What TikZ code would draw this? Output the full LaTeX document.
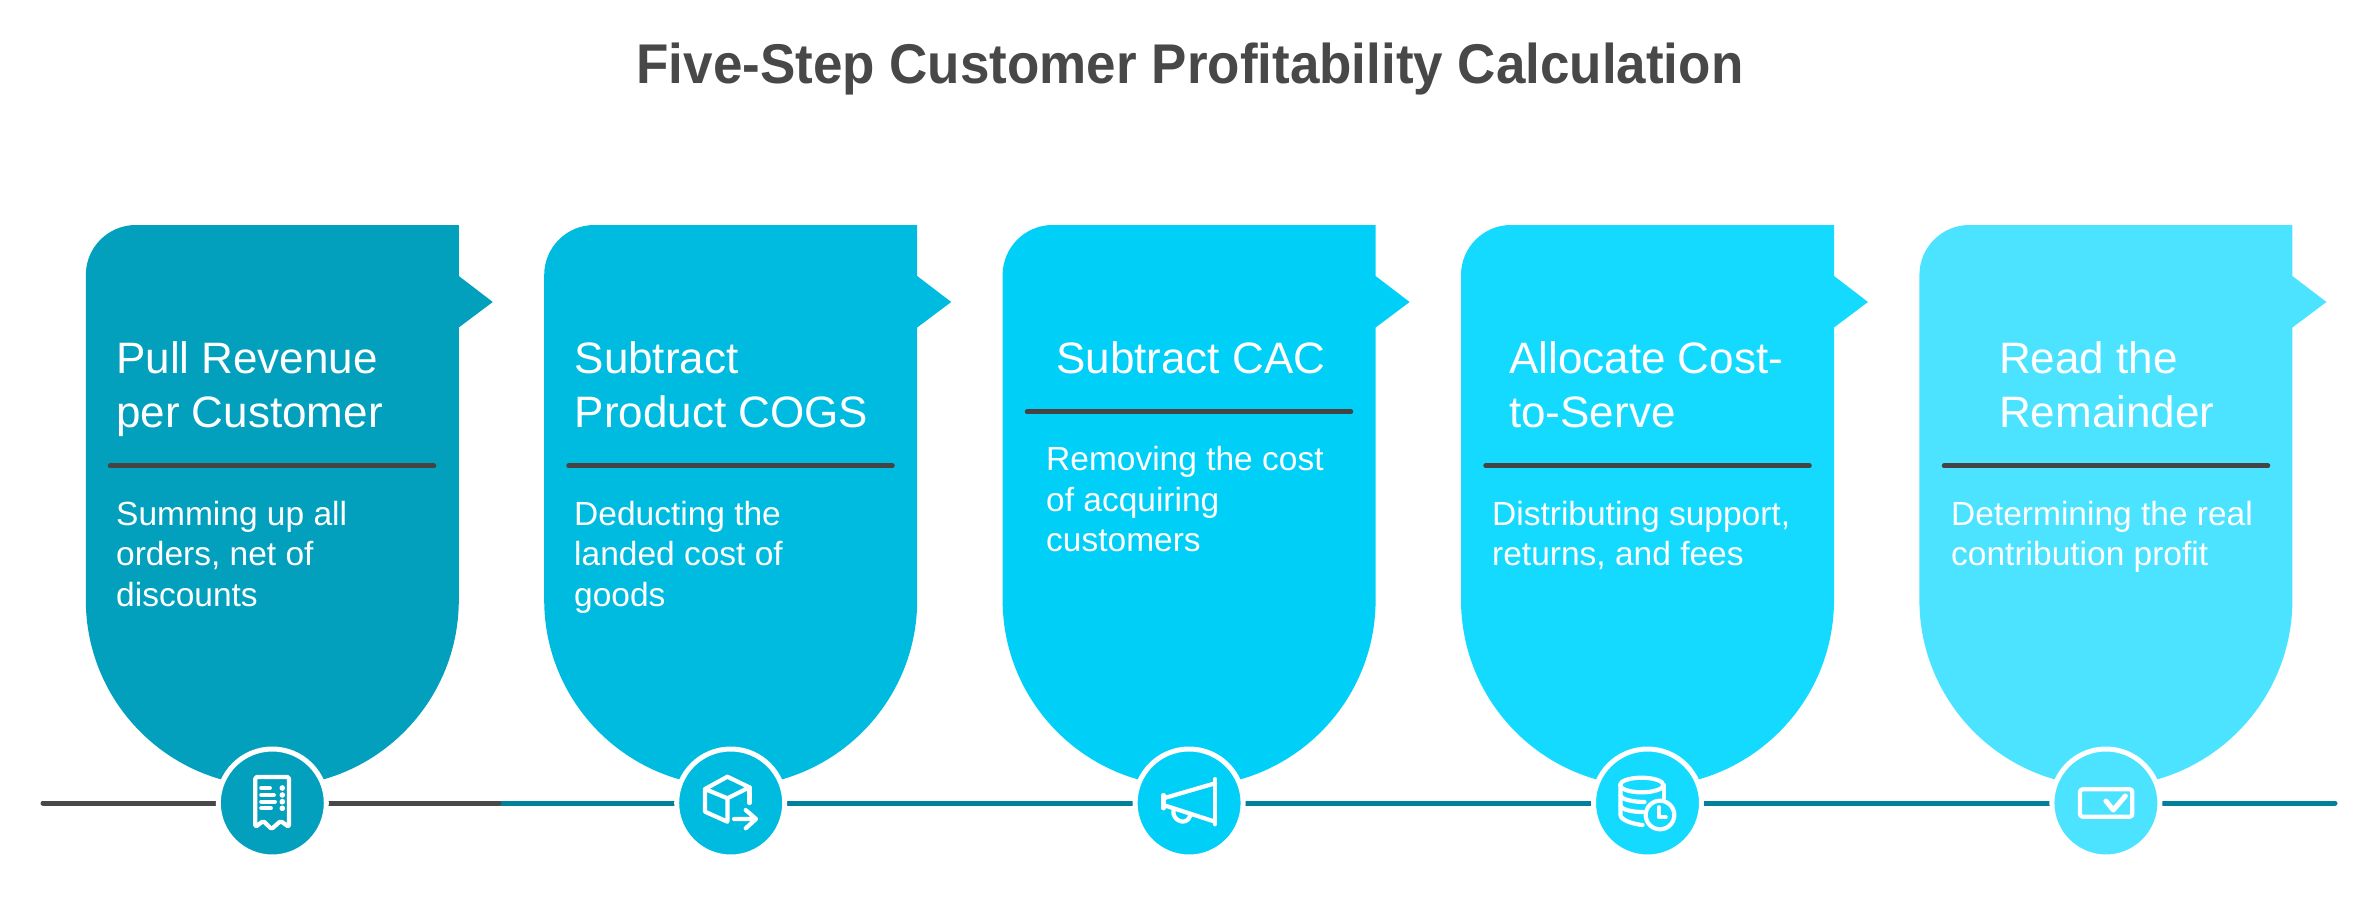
\documentclass[tikz,border=0pt]{standalone}
\usepackage{fontspec}
\setmainfont{Liberation Sans}
\newfontfamily\titlefont[FakeStretch=0.946]{Liberation Sans}
\definecolor{cardA}{HTML}{02A0BD}
\definecolor{cardB}{HTML}{00BBE0}
\definecolor{cardC}{HTML}{00CFF8}
\definecolor{cardD}{HTML}{14DAFF}
\definecolor{cardE}{HTML}{4BE3FF}
\definecolor{inkgray}{HTML}{484848}
\definecolor{rulegray}{HTML}{444444}
\definecolor{tealline}{HTML}{00809B}
\tikzset{
  titletext/.style={anchor=base,inner sep=0,text=inkgray,font=\titlefont\fontsize{56}{60}\selectfont\bfseries},
  headtext/.style={anchor=base west,inner sep=0,text=white,align=left,font=\fontsize{44}{54.4}\selectfont},
  bodytext/.style={anchor=base west,inner sep=0,text=white,align=left,font=\fontsize{33.5}{40.5}\selectfont},
  divider/.style={draw=rulegray,line width=4.5pt,line cap=round},
  timeline/.style={line width=5pt,line cap=round},
  badge/.style={circle,draw=white,line width=5pt,minimum size=108pt,inner sep=0pt},
  icon/.style={draw=white,line width=4.2pt,line cap=round,line join=round}
}
\newcommand{\cardshape}[2]{%
  \fill[#2,shift={(#1,0)}] (0,275) .. controls (0,247.4) and (22.4,225) .. (50,225)
    -- (373,225) -- (373,276) -- (407,302) -- (373,327.5) -- (373,600)
    .. controls (373,703) and (289.5,786.5) .. (186.5,786.5)
    .. controls (83.5,786.5) and (0,703) .. (0,600) -- cycle;}
\begin{document}
\begin{tikzpicture}[x=1pt,y=-1pt]
\useasboundingbox (0,0) rectangle (2378,899);
\node[titletext] (title) at (1190,83.3) {Five-Step Customer Profitability Calculation};
% timeline
\coordinate (tlstart) at (43,803);
\coordinate (tlchange) at (499,803);
\coordinate (tlend) at (2335,803);
\draw[timeline,draw=tealline] (tlchange) -- (tlend);
\draw[timeline,draw=inkgray] (tlstart) -- (tlchange);
% cards
\cardshape{85.8}{cardA}
\cardshape{544.2}{cardB}
\cardshape{1002.6}{cardC}
\cardshape{1461}{cardD}
\cardshape{1919.4}{cardE}
% badges
\node[badge,fill=cardA] (b1) at (272.3,803) {};
\node[badge,fill=cardB] (b2) at (730.7,803) {};
\node[badge,fill=cardC] (b3) at (1189.1,803) {};
\node[badge,fill=cardD] (b4) at (1647.5,803) {};
\node[badge,fill=cardE] (b5) at (2105.9,803) {};
% dividers
\coordinate (d1a) at (110,465.7); \coordinate (d1b) at (434,465.7);
\coordinate (d2a) at (568.5,465.7); \coordinate (d2b) at (892.5,465.7);
\coordinate (d3a) at (1027,411.7); \coordinate (d3b) at (1351,411.7);
\coordinate (d4a) at (1485.5,465.7); \coordinate (d4b) at (1809.5,465.7);
\coordinate (d5a) at (1944,465.7); \coordinate (d5b) at (2268,465.7);
\draw[divider] (d1a) -- (d1b);
\draw[divider] (d2a) -- (d2b);
\draw[divider] (d3a) -- (d3b);
\draw[divider] (d4a) -- (d4b);
\draw[divider] (d5a) -- (d5b);
% headings (a node's base is its last line)
\node[headtext] (h1) at (116,427.7) {Pull Revenue\\per Customer};
\node[headtext] (h2) at (574.5,427.7) {Subtract\\Product COGS};
\node[headtext] (h3) at (1056,373.3) {Subtract CAC};
\node[headtext] (h4) at (1509,427.7) {Allocate Cost-\\to-Serve};
\node[headtext] (h5) at (1999,427.7) {Read the\\Remainder};
% bodies
\node[bodytext] (t1) at (116,606) {Summing up all\\orders, net of\\discounts};
\node[bodytext] (t2) at (574,606) {Deducting the\\landed cost of\\goods};
\node[bodytext] (t3) at (1046,551.5) {Removing the cost\\of acquiring\\customers};
\node[bodytext] (t4) at (1492,565.5) {Distributing support,\\returns, and fees};
\node[bodytext] (t5) at (1951,565.5) {Determining the real\\contribution profit};
% icon 1: receipt
\begin{scope}[shift={(b1.center)}]
\draw[icon,rounded corners=1.5pt] (-17,24) -- (-17,-26) -- (16.7,-26) -- (16.7,24) -- (8.3,18) -- (-0.7,26) -- (-9,18) -- cycle;
\draw[icon] (-11,-15) -- (-2.5,-15) (-11,-8) -- (1.5,-8) (-11,-1.3) -- (2.5,-1.3) (-11,5.3) -- (-1.5,5.3);
\fill[white] (10,-15) circle (2.8) (10,-8) circle (2.8) (10,-1.3) circle (2.8) (10,5.3) circle (2.8);
\end{scope}
% icon 2: box with arrow
\begin{scope}[shift={(b2.center)}]
\draw[icon] (-3.3,-26.3) -- (-25.7,-14) -- (-25.7,8.7) -- (-3.3,18.7) -- (-3.3,-4.7) -- (18.7,-15.7) -- (-3.3,-26.3);
\draw[icon] (-25.7,-14) -- (-3.3,-4.7);
\draw[icon] (18.7,-15.7) -- (18.7,0);
\draw[icon] (3.3,16) -- (25.3,16) (15,7) -- (25.3,16) -- (15,25.3);
\end{scope}
% icon 3: megaphone
\begin{scope}[shift={(b3.center)}]
\draw[icon] (-25.7,-8) -- (-25.7,5.3) (26,-24) -- (26,21.3);
\draw[icon] (-25.7,-4.7) -- (26,-19.7) (-25.7,2) -- (26,18.7);
\draw[icon] (-15.7,8) .. controls (-17,17) and (-3,24) .. (1,13);
\end{scope}
% icon 4: database with clock
\begin{scope}[shift={(b4.center)}]
\draw[icon] (-5.8,-18) ellipse [x radius=21.7,y radius=7.3];
\draw[icon] (-27,-18) -- (-27,12) .. controls (-27,17) and (-15,21) .. (-5,22);
\draw[icon] (-27,-8) .. controls (-27,-3) and (-12,-1) .. (-3,-1);
\draw[icon] (-27,2) .. controls (-27,7) and (-14,9) .. (-5,9);
\draw[icon] (16.5,-18) -- (16.5,-5);
\draw[icon] (12.5,12) circle (14.3);
\draw[icon] (11.5,4.3) -- (11.5,14.3) -- (18.2,14.3);
\end{scope}
% icon 5: check box
\begin{scope}[shift={(b5.center)}]
\draw[icon,rounded corners=2.5pt] (-25.9,-13.7) rectangle (26.4,13.7);
\draw[icon,line width=5pt] (0,-2) -- (7.4,7) -- (19.4,-7);
\end{scope}
\end{tikzpicture}
\end{document}
